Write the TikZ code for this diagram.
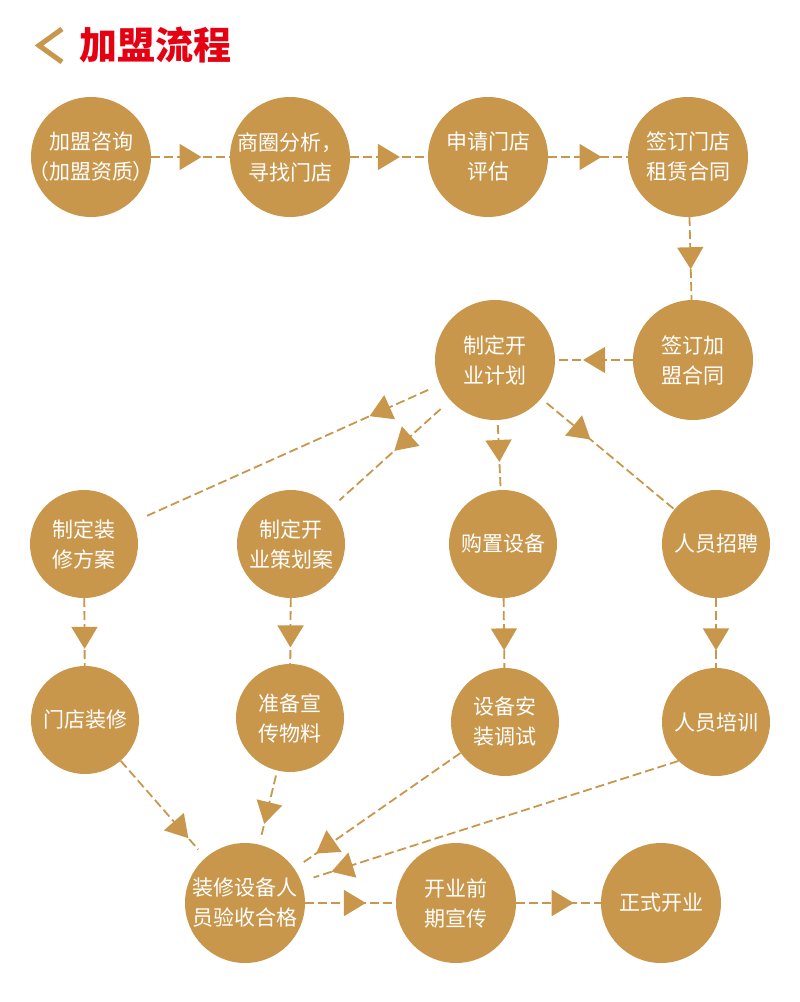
\documentclass[tikz,border=0pt]{standalone}
\usepackage{fontspec}
\newfontfamily\cjk{Noto Sans CJK SC}
\usetikzlibrary{arrows.meta,decorations.markings}
\definecolor{gold}{RGB}{201,151,76}
\definecolor{titlered}{RGB}{229,0,18}

\begin{document}
\begin{tikzpicture}[x=1pt,y=1pt,
    bubble/.style={circle,fill=gold,text=white,minimum size=120pt,inner sep=0pt,
      align=center,font=\cjk\fontsize{21}{30}\selectfont},
    small/.style={bubble,minimum size=108pt},
    flow/.style={color=gold,line width=1.8pt,dash pattern=on 9pt off 4pt,
      postaction={decorate},
      decoration={markings,mark=at position #1 with {\arrow{Triangle[length=22pt,width=26pt]}}}}]
    \useasboundingbox (0,0) rectangle (800,-1002);
    % title
    \draw[gold,line width=5pt,miter limit=10] (62,-29) -- (39,-45.5) -- (62,-62);
    \node[anchor=west,inner sep=0pt,text=titlered,font=\cjk\bfseries\fontsize{38}{38}\selectfont] (title) at (79,-45) {加盟流程};
    % first row
    \node[bubble] (zixun) at (91,-157) {加盟咨询\\\makebox[0pt]{（加盟资质）}};
    \node[bubble] (shangquan) at (290,-157) {\makebox[0pt]{商圈分析，}\\寻找门店};
    \node[bubble] (pinggu) at (488,-157) {申请门店\\评估};
    \node[bubble] (zulin) at (688,-157) {签订门店\\租赁合同};
    % second row
    \node[bubble] (jihua) at (495,-360) {制定开\\业计划};
    \node[bubble] (jiameng) at (693,-360) {签订加\\盟合同};
    % third row
    \node[small] (zhuangxiu) at (84,-544) {制定装\\修方案};
    \node[small] (cehua) at (291,-544) {制定开\\业策划案};
    \node[small] (shebei) at (503,-544) {购置设备};
    \node[small] (zhaopin) at (716,-544) {人员招聘};
    % fourth row
    \node[small] (mendian) at (85,-720) {门店装修};
    \node[small] (wuliao) at (290,-718) {准备宣\\传物料};
    \node[small] (tiaoshi) at (505,-722) {设备安\\装调试};
    \node[small] (peixun) at (716,-722) {人员培训};
    % last row
    \node[bubble] (yanshou) at (245,-903) {\makebox[0pt]{装修设备人}\\\makebox[0pt]{员验收合格}};
    \node[bubble] (xuanchuan) at (456,-903) {开业前\\期宣传};
    \node[bubble] (kaiye) at (661,-903) {正式开业};

    \draw[flow=0.64] (zixun) -- (shangquan);
    \draw[flow=0.64] (shangquan) -- (pinggu);
    \draw[flow=0.67] (pinggu) -- (zulin);
    \draw[flow=0.63] (zulin) -- (jiameng);
    \draw[flow=0.64] (jiameng) -- (jihua);
    \draw[flow=0.23,shorten <=13pt,shorten >=11pt] (jihua) -- (zhuangxiu);
    \draw[flow=0.47,shorten <=13pt,shorten >=11pt] (jihua) -- (cehua);
    \draw[flow=0.6,shorten <=5pt] (jihua) -- (shebei);
    \draw[flow=0.37,shorten <=7pt] (jihua) -- (zhaopin);
    \draw[flow=0.75] (zhuangxiu) -- (mendian);
    \draw[flow=0.75] (cehua) -- (wuliao);
    \draw[flow=0.75] (shebei) -- (tiaoshi);
    \draw[flow=0.75] (zhaopin) -- (peixun);
    \draw[flow=0.8,shorten >=11pt] (mendian) -- (yanshou);
    \draw[flow=0.72,shorten <=5pt,shorten >=6pt] (wuliao) -- (yanshou);
    \draw[flow=0.87,shorten >=10pt] (tiaoshi) -- (yanshou);
    \draw[flow=0.92,shorten >=13pt] (peixun.226) -- (yanshou.21);
    \draw[flow=0.67] (yanshou) -- (xuanchuan);
    \draw[flow=0.68] (xuanchuan) -- (kaiye);
\end{tikzpicture}
\end{document}
